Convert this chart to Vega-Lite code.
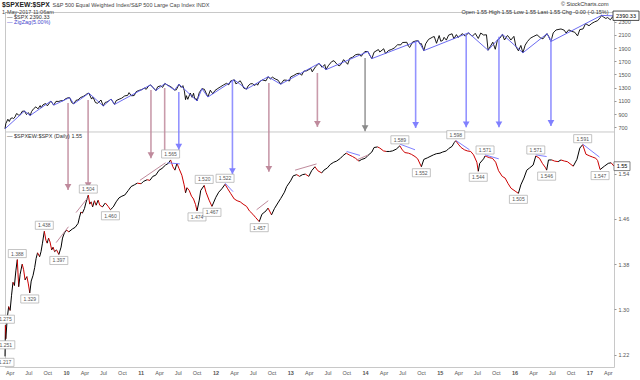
{
"$schema":"https://vega.github.io/schema/vega-lite/v6.json",
"width":609,"height":355,
"autosize":{"type":"none"},
"padding":{"left":5,"top":12,"right":26,"bottom":13},
"background":"white",
"config":{"view":{"stroke":"#c8c8c8","strokeWidth":1},"font":"Liberation Sans"},
"title":{"text":"$SPXEW:$SPX","subtitle":"1-May-2017 11:06am","anchor":"start","frame":"group","fontSize":6.8,"fontWeight":"bold","color":"#222","subtitleFontSize":5.5,"subtitleColor":"#444","subtitlePadding":1,"offset":1,"dx":-3,"dy":15},
"datasets":{
"spx":[
{"d":"2009-03-09","c":677},{"d":"2009-03-13","c":756},{"d":"2009-03-23","c":822},{"d":"2009-03-30","c":788},{"d":"2009-04-06","c":835},{"d":"2009-04-14","c":842},{"d":"2009-04-20","c":832},{"d":"2009-04-27","c":857},{"d":"2009-05-04","c":907},{"d":"2009-05-11","c":897},{"d":"2009-05-15","c":882},{"d":"2009-05-22","c":887},{"d":"2009-06-01","c":942},{"d":"2009-06-12","c":946},{"d":"2009-06-22","c":893},{"d":"2009-07-01","c":923},{"d":"2009-07-10","c":879},{"d":"2009-07-17","c":940},{"d":"2009-07-27","c":982},{"d":"2009-08-07","c":1010},{"d":"2009-08-17","c":979},{"d":"2009-08-28","c":1029},{"d":"2009-09-02","c":995},{"d":"2009-09-11","c":1042},{"d":"2009-09-23","c":1060},{"d":"2009-10-02","c":1025},{"d":"2009-10-19","c":1097},{"d":"2009-11-02","c":1036},{"d":"2009-11-13","c":1093},{"d":"2009-11-27","c":1092},{"d":"2009-12-07","c":1103},{"d":"2009-12-18","c":1102},{"d":"2009-12-28","c":1128},
{"d":"2010-01-08","c":1145},{"d":"2010-01-19","c":1150},{"d":"2010-01-29","c":1074},{"d":"2010-02-08","c":1056},{"d":"2010-02-19","c":1109},{"d":"2010-03-01","c":1115},{"d":"2010-03-12","c":1150},{"d":"2010-03-26","c":1167},{"d":"2010-04-05","c":1187},{"d":"2010-04-15","c":1211},{"d":"2010-04-23","c":1217},{"d":"2010-05-06","c":1128},{"d":"2010-05-13","c":1157},{"d":"2010-05-25","c":1074},{"d":"2010-06-04","c":1064},{"d":"2010-06-21","c":1113},{"d":"2010-07-02","c":1022},{"d":"2010-07-12","c":1078},{"d":"2010-07-20","c":1083},{"d":"2010-07-30","c":1102},{"d":"2010-08-09","c":1128},{"d":"2010-08-26","c":1047},{"d":"2010-09-03","c":1104},{"d":"2010-09-17","c":1125},{"d":"2010-09-30","c":1141},{"d":"2010-10-15","c":1176},{"d":"2010-10-29","c":1183},{"d":"2010-11-05","c":1225},{"d":"2010-11-16","c":1178},{"d":"2010-11-30","c":1181},{"d":"2010-12-10","c":1240},{"d":"2010-12-22","c":1258},
{"d":"2011-01-07","c":1271},{"d":"2011-01-18","c":1295},{"d":"2011-01-28","c":1276},{"d":"2011-02-08","c":1324},{"d":"2011-02-18","c":1343},{"d":"2011-03-01","c":1306},{"d":"2011-03-16","c":1256},{"d":"2011-03-25","c":1314},{"d":"2011-04-08","c":1328},{"d":"2011-04-18","c":1305},{"d":"2011-04-29","c":1364},{"d":"2011-05-13","c":1338},{"d":"2011-05-25","c":1320},{"d":"2011-06-03","c":1300},{"d":"2011-06-15","c":1265},{"d":"2011-06-24","c":1268},{"d":"2011-07-07","c":1353},{"d":"2011-07-18","c":1305},{"d":"2011-07-26","c":1331},{"d":"2011-08-02","c":1254},{"d":"2011-08-08","c":1119},{"d":"2011-08-12","c":1179},{"d":"2011-08-19","c":1124},{"d":"2011-08-31","c":1219},{"d":"2011-09-09","c":1154},{"d":"2011-09-16","c":1216},{"d":"2011-09-22","c":1129},{"d":"2011-09-30","c":1131},{"d":"2011-10-03","c":1099},{"d":"2011-10-14","c":1225},{"d":"2011-10-27","c":1285},{"d":"2011-11-08","c":1276},{"d":"2011-11-25","c":1159},{"d":"2011-12-07","c":1262},{"d":"2011-12-19","c":1206},{"d":"2011-12-30","c":1258},
{"d":"2012-01-13","c":1289},{"d":"2012-01-27","c":1316},{"d":"2012-02-10","c":1343},{"d":"2012-02-24","c":1366},{"d":"2012-03-06","c":1344},{"d":"2012-03-16","c":1404},{"d":"2012-04-02","c":1419},{"d":"2012-04-10","c":1358},{"d":"2012-04-20","c":1379},{"d":"2012-05-01","c":1405},{"d":"2012-05-10","c":1357},{"d":"2012-05-18","c":1295},{"d":"2012-06-01","c":1278},{"d":"2012-06-08","c":1325},{"d":"2012-06-19","c":1357},{"d":"2012-06-29","c":1362},{"d":"2012-07-12","c":1334},{"d":"2012-07-20","c":1362},{"d":"2012-07-25","c":1338},{"d":"2012-08-03","c":1390},{"d":"2012-08-17","c":1418},{"d":"2012-09-04","c":1404},{"d":"2012-09-14","c":1466},{"d":"2012-09-26","c":1433},{"d":"2012-10-05","c":1460},{"d":"2012-10-19","c":1433},{"d":"2012-11-02","c":1414},{"d":"2012-11-15","c":1353},{"d":"2012-11-30","c":1416},{"d":"2012-12-14","c":1413},{"d":"2012-12-28","c":1402},
{"d":"2013-01-02","c":1462},{"d":"2013-01-18","c":1486},{"d":"2013-02-01","c":1513},{"d":"2013-02-15","c":1520},{"d":"2013-02-25","c":1488},{"d":"2013-03-08","c":1551},{"d":"2013-03-22","c":1556},{"d":"2013-04-11","c":1593},{"d":"2013-04-18","c":1541},{"d":"2013-05-03","c":1614},{"d":"2013-05-21","c":1669},{"d":"2013-06-05","c":1609},{"d":"2013-06-18","c":1651},{"d":"2013-06-24","c":1573},{"d":"2013-07-05","c":1632},{"d":"2013-07-22","c":1696},{"d":"2013-08-02","c":1709},{"d":"2013-08-15","c":1661},{"d":"2013-08-27","c":1630},{"d":"2013-09-06","c":1655},{"d":"2013-09-18","c":1725},{"d":"2013-10-08","c":1655},{"d":"2013-10-18","c":1744},{"d":"2013-11-01","c":1762},{"d":"2013-11-15","c":1798},{"d":"2013-11-27","c":1807},{"d":"2013-12-06","c":1805},{"d":"2013-12-13","c":1775},{"d":"2013-12-31","c":1848},
{"d":"2014-01-15","c":1848},{"d":"2014-01-24","c":1790},{"d":"2014-02-03","c":1741},{"d":"2014-02-14","c":1838},{"d":"2014-03-07","c":1878},{"d":"2014-03-14","c":1841},{"d":"2014-04-02","c":1890},{"d":"2014-04-11","c":1815},{"d":"2014-04-25","c":1863},{"d":"2014-05-09","c":1878},{"d":"2014-05-23","c":1900},{"d":"2014-06-09","c":1951},{"d":"2014-06-24","c":1949},{"d":"2014-07-03","c":1985},{"d":"2014-07-24","c":1988},{"d":"2014-07-31","c":1931},{"d":"2014-08-07","c":1910},{"d":"2014-08-21","c":1992},{"d":"2014-09-05","c":2008},{"d":"2014-09-18","c":2011},{"d":"2014-09-25","c":1965},{"d":"2014-10-03","c":1968},{"d":"2014-10-15","c":1862},{"d":"2014-10-24","c":1965},{"d":"2014-11-07","c":2032},{"d":"2014-11-28","c":2068},{"d":"2014-12-05","c":2075},{"d":"2014-12-16","c":1973},{"d":"2014-12-29","c":2090},
{"d":"2015-01-06","c":2003},{"d":"2015-01-16","c":2019},{"d":"2015-01-22","c":2063},{"d":"2015-02-02","c":2021},{"d":"2015-02-13","c":2097},{"d":"2015-03-02","c":2117},{"d":"2015-03-11","c":2040},{"d":"2015-03-23","c":2104},{"d":"2015-04-01","c":2060},{"d":"2015-04-15","c":2106},{"d":"2015-04-24","c":2117},{"d":"2015-05-06","c":2080},{"d":"2015-05-21","c":2131},{"d":"2015-06-09","c":2080},{"d":"2015-06-23","c":2124},{"d":"2015-07-08","c":2046},{"d":"2015-07-20","c":2128},{"d":"2015-08-03","c":2098},{"d":"2015-08-17","c":2102},{"d":"2015-08-25","c":1867},{"d":"2015-09-04","c":1921},{"d":"2015-09-17","c":1990},{"d":"2015-09-29","c":1882},{"d":"2015-10-09","c":2015},{"d":"2015-10-22","c":2052},{"d":"2015-11-03","c":2109},{"d":"2015-11-13","c":2023},{"d":"2015-11-27","c":2090},{"d":"2015-12-02","c":2079},{"d":"2015-12-14","c":2022},{"d":"2015-12-29","c":2078},
{"d":"2016-01-08","c":1922},{"d":"2016-01-20","c":1859},{"d":"2016-02-01","c":1940},{"d":"2016-02-11","c":1829},{"d":"2016-02-22","c":1945},{"d":"2016-03-04","c":1999},{"d":"2016-03-18","c":2049},{"d":"2016-04-01","c":2073},{"d":"2016-04-20","c":2102},{"d":"2016-05-06","c":2057},{"d":"2016-05-19","c":2040},{"d":"2016-06-08","c":2119},{"d":"2016-06-16","c":2077},{"d":"2016-06-27","c":2000},{"d":"2016-07-08","c":2130},{"d":"2016-07-22","c":2175},{"d":"2016-08-15","c":2190},{"d":"2016-08-31","c":2171},{"d":"2016-09-09","c":2128},{"d":"2016-09-22","c":2177},{"d":"2016-10-07","c":2153},{"d":"2016-10-21","c":2141},{"d":"2016-11-04","c":2085},{"d":"2016-11-15","c":2180},{"d":"2016-12-01","c":2191},{"d":"2016-12-13","c":2271},{"d":"2016-12-30","c":2239},
{"d":"2017-01-13","c":2275},{"d":"2017-01-26","c":2297},{"d":"2017-02-10","c":2316},{"d":"2017-02-24","c":2367},{"d":"2017-03-01","c":2396},{"d":"2017-03-10","c":2373},{"d":"2017-03-22","c":2349},{"d":"2017-03-31","c":2363},{"d":"2017-04-13","c":2329},{"d":"2017-04-24","c":2374},{"d":"2017-05-01","c":2388}
],
"zig":[
{"d":"2009-03-09","z":677},{"d":"2009-06-12","z":946},{"d":"2009-07-10","z":879},{"d":"2009-10-19","z":1097},{"d":"2009-11-02","z":1036},{"d":"2010-01-19","z":1150},{"d":"2010-02-08","z":1056},{"d":"2010-04-23","z":1217},{"d":"2010-07-02","z":1022},{"d":"2010-08-09","z":1128},{"d":"2010-08-26","z":1047},{"d":"2011-02-18","z":1343},{"d":"2011-03-16","z":1256},{"d":"2011-04-29","z":1364},{"d":"2011-06-15","z":1265},{"d":"2011-07-07","z":1353},{"d":"2011-10-03","z":1099},{"d":"2011-10-27","z":1285},{"d":"2011-11-25","z":1159},{"d":"2012-04-02","z":1419},{"d":"2012-06-01","z":1278},{"d":"2012-09-14","z":1466},{"d":"2012-11-15","z":1353},{"d":"2013-05-21","z":1669},{"d":"2013-06-24","z":1573},{"d":"2014-01-15","z":1848},{"d":"2014-02-03","z":1741},{"d":"2014-09-18","z":2011},{"d":"2014-10-15","z":1862},{"d":"2015-05-21","z":2131},{"d":"2015-08-25","z":1867},{"d":"2015-11-03","z":2109},{"d":"2016-02-11","z":1829},{"d":"2016-06-08","z":2119},{"d":"2016-06-27","z":2000},{"d":"2017-03-01","z":2396},{"d":"2017-05-01","z":2388}
],
"r":[
{"d":"2009-03-09","v":1.217},{"d":"2009-03-11","v":1.272},{"d":"2009-03-13","v":1.248},{"d":"2009-03-20","v":1.285},{"d":"2009-03-27","v":1.305},{"d":"2009-04-03","v":1.298},{"d":"2009-04-10","v":1.325},{"d":"2009-04-17","v":1.348},{"d":"2009-04-24","v":1.342},{"d":"2009-05-01","v":1.368},{"d":"2009-05-08","v":1.388},{"d":"2009-05-15","v":1.34},{"d":"2009-05-22","v":1.362},{"d":"2009-06-01","v":1.38},{"d":"2009-06-08","v":1.37},{"d":"2009-06-15","v":1.352},{"d":"2009-06-24","v":1.358},{"d":"2009-07-01","v":1.345},{"d":"2009-07-08","v":1.329},{"d":"2009-07-15","v":1.35},{"d":"2009-07-24","v":1.36},{"d":"2009-08-01","v":1.374},{"d":"2009-08-08","v":1.39},{"d":"2009-08-15","v":1.4},{"d":"2009-08-25","v":1.393},{"d":"2009-09-01","v":1.402},{"d":"2009-09-08","v":1.417},{"d":"2009-09-17","v":1.438},{"d":"2009-09-25","v":1.422},{"d":"2009-10-01","v":1.417},{"d":"2009-10-08","v":1.426},{"d":"2009-10-15","v":1.419},{"d":"2009-10-23","v":1.405},{"d":"2009-10-30","v":1.41},{"d":"2009-11-06","v":1.402},{"d":"2009-11-16","v":1.405},{"d":"2009-11-27","v":1.397},{"d":"2009-12-08","v":1.41},{"d":"2009-12-15","v":1.426},{"d":"2009-12-24","v":1.435},
{"d":"2010-01-04","v":1.44},{"d":"2010-01-15","v":1.437},{"d":"2010-02-01","v":1.442},{"d":"2010-02-15","v":1.445},{"d":"2010-03-01","v":1.452},{"d":"2010-03-08","v":1.463},{"d":"2010-03-15","v":1.472},{"d":"2010-03-22","v":1.47},{"d":"2010-04-01","v":1.478},{"d":"2010-04-08","v":1.488},{"d":"2010-04-20","v":1.502},{"d":"2010-04-27","v":1.486},{"d":"2010-05-04","v":1.49},{"d":"2010-05-11","v":1.481},{"d":"2010-05-20","v":1.492},{"d":"2010-05-28","v":1.484},{"d":"2010-06-07","v":1.493},{"d":"2010-06-15","v":1.484},{"d":"2010-06-28","v":1.481},{"d":"2010-07-12","v":1.488},{"d":"2010-07-26","v":1.482},{"d":"2010-08-06","v":1.476},{"d":"2010-08-20","v":1.481},{"d":"2010-09-03","v":1.49},{"d":"2010-09-17","v":1.497},{"d":"2010-10-01","v":1.5},{"d":"2010-10-15","v":1.502},{"d":"2010-11-01","v":1.51},{"d":"2010-11-15","v":1.517},{"d":"2010-12-01","v":1.52},{"d":"2010-12-15","v":1.523},
{"d":"2011-01-03","v":1.522},{"d":"2011-01-14","v":1.526},{"d":"2011-02-01","v":1.529},{"d":"2011-02-15","v":1.528},{"d":"2011-03-01","v":1.535},{"d":"2011-03-15","v":1.537},{"d":"2011-04-01","v":1.546},{"d":"2011-04-15","v":1.549},{"d":"2011-05-02","v":1.555},{"d":"2011-05-16","v":1.558},{"d":"2011-05-27","v":1.564},{"d":"2011-06-07","v":1.552},{"d":"2011-06-17","v":1.546},{"d":"2011-06-27","v":1.558},{"d":"2011-07-07","v":1.549},{"d":"2011-07-21","v":1.537},{"d":"2011-08-01","v":1.52},{"d":"2011-08-08","v":1.506},{"d":"2011-08-15","v":1.515},{"d":"2011-08-26","v":1.51},{"d":"2011-09-06","v":1.5},{"d":"2011-09-16","v":1.495},{"d":"2011-09-26","v":1.485},{"d":"2011-10-03","v":1.474},{"d":"2011-10-14","v":1.493},{"d":"2011-10-21","v":1.51},{"d":"2011-11-07","v":1.519},{"d":"2011-11-16","v":1.507},{"d":"2011-12-01","v":1.493},{"d":"2011-12-15","v":1.482},
{"d":"2012-01-03","v":1.498},{"d":"2012-01-17","v":1.507},{"d":"2012-02-01","v":1.513},{"d":"2012-02-17","v":1.521},{"d":"2012-03-01","v":1.513},{"d":"2012-03-15","v":1.505},{"d":"2012-04-02","v":1.495},{"d":"2012-04-16","v":1.492},{"d":"2012-05-01","v":1.49},{"d":"2012-05-15","v":1.486},{"d":"2012-06-01","v":1.482},{"d":"2012-06-15","v":1.474},{"d":"2012-07-02","v":1.468},{"d":"2012-07-16","v":1.462},{"d":"2012-08-02","v":1.455},{"d":"2012-08-15","v":1.468},{"d":"2012-09-04","v":1.474},{"d":"2012-09-14","v":1.479},{"d":"2012-10-01","v":1.467},{"d":"2012-10-15","v":1.478},{"d":"2012-11-01","v":1.488},{"d":"2012-11-15","v":1.496},{"d":"2012-12-03","v":1.507},{"d":"2012-12-14","v":1.517},
{"d":"2013-01-02","v":1.527},{"d":"2013-01-15","v":1.536},{"d":"2013-02-01","v":1.538},{"d":"2013-02-15","v":1.535},{"d":"2013-03-01","v":1.538},{"d":"2013-03-15","v":1.539},{"d":"2013-04-01","v":1.535},{"d":"2013-04-15","v":1.545},{"d":"2013-05-01","v":1.552},{"d":"2013-05-15","v":1.545},{"d":"2013-06-03","v":1.541},{"d":"2013-06-14","v":1.546},{"d":"2013-07-01","v":1.55},{"d":"2013-07-15","v":1.556},{"d":"2013-08-01","v":1.56},{"d":"2013-08-15","v":1.562},{"d":"2013-09-03","v":1.567},{"d":"2013-09-16","v":1.572},{"d":"2013-10-01","v":1.576},{"d":"2013-10-15","v":1.573},{"d":"2013-11-01","v":1.57},{"d":"2013-11-15","v":1.567},{"d":"2013-12-02","v":1.562},{"d":"2013-12-16","v":1.565},
{"d":"2014-01-02","v":1.567},{"d":"2014-01-15","v":1.572},{"d":"2014-02-03","v":1.578},{"d":"2014-02-14","v":1.586},{"d":"2014-03-03","v":1.587},{"d":"2014-03-14","v":1.585},{"d":"2014-04-01","v":1.58},{"d":"2014-04-15","v":1.579},{"d":"2014-05-01","v":1.579},{"d":"2014-05-15","v":1.58},{"d":"2014-06-02","v":1.583},{"d":"2014-06-20","v":1.589},{"d":"2014-07-01","v":1.582},{"d":"2014-07-15","v":1.577},{"d":"2014-08-01","v":1.576},{"d":"2014-08-15","v":1.574},{"d":"2014-09-02","v":1.57},{"d":"2014-09-15","v":1.566},{"d":"2014-10-03","v":1.552},{"d":"2014-10-15","v":1.565},{"d":"2014-11-03","v":1.568},{"d":"2014-11-14","v":1.57},{"d":"2014-12-01","v":1.573},{"d":"2014-12-15","v":1.575},
{"d":"2015-01-02","v":1.576},{"d":"2015-01-15","v":1.578},{"d":"2015-02-02","v":1.58},{"d":"2015-02-13","v":1.584},{"d":"2015-03-02","v":1.588},{"d":"2015-03-13","v":1.595},{"d":"2015-03-20","v":1.598},{"d":"2015-04-01","v":1.592},{"d":"2015-04-15","v":1.586},{"d":"2015-05-01","v":1.582},{"d":"2015-05-15","v":1.58},{"d":"2015-06-01","v":1.579},{"d":"2015-06-15","v":1.573},{"d":"2015-07-01","v":1.56},{"d":"2015-07-08","v":1.544},{"d":"2015-07-15","v":1.558},{"d":"2015-08-03","v":1.566},{"d":"2015-08-10","v":1.571},{"d":"2015-08-17","v":1.57},{"d":"2015-09-01","v":1.568},{"d":"2015-09-15","v":1.567},{"d":"2015-10-01","v":1.56},{"d":"2015-10-15","v":1.545},{"d":"2015-11-02","v":1.535},{"d":"2015-11-16","v":1.532},{"d":"2015-12-01","v":1.522},{"d":"2015-12-15","v":1.514},
{"d":"2016-01-04","v":1.509},{"d":"2016-01-20","v":1.505},{"d":"2016-02-01","v":1.52},{"d":"2016-02-16","v":1.532},{"d":"2016-03-01","v":1.546},{"d":"2016-03-15","v":1.55},{"d":"2016-04-01","v":1.555},{"d":"2016-04-14","v":1.571},{"d":"2016-05-02","v":1.567},{"d":"2016-05-16","v":1.558},{"d":"2016-06-01","v":1.55},{"d":"2016-06-06","v":1.546},{"d":"2016-06-15","v":1.564},{"d":"2016-07-01","v":1.564},{"d":"2016-07-15","v":1.562},{"d":"2016-08-01","v":1.561},{"d":"2016-08-15","v":1.564},{"d":"2016-09-01","v":1.562},{"d":"2016-09-15","v":1.561},{"d":"2016-10-03","v":1.556},{"d":"2016-10-14","v":1.553},{"d":"2016-11-01","v":1.565},{"d":"2016-11-15","v":1.585},{"d":"2016-11-29","v":1.591},{"d":"2016-12-15","v":1.574},
{"d":"2017-01-03","v":1.571},{"d":"2017-01-17","v":1.569},{"d":"2017-02-01","v":1.567},{"d":"2017-02-10","v":1.563},{"d":"2017-02-22","v":1.547},{"d":"2017-03-15","v":1.553},{"d":"2017-04-03","v":1.558},{"d":"2017-04-17","v":1.559},{"d":"2017-05-01","v":1.553}
],
"trend":[
{"g":1,"d":"2009-11-14","v":1.418,"kind":"up"},{"g":1,"d":"2010-01-13","v":1.446,"kind":"up"},
{"g":2,"d":"2010-02-19","v":1.471,"kind":"up"},{"g":2,"d":"2010-04-19","v":1.498,"kind":"up"},
{"g":3,"d":"2010-12-28","v":1.528,"kind":"up"},{"g":3,"d":"2011-05-02","v":1.559,"kind":"up"},
{"g":4,"d":"2011-05-12","v":1.559,"kind":"down"},{"g":4,"d":"2011-07-11","v":1.557,"kind":"down"},
{"g":5,"d":"2012-02-17","v":1.523,"kind":"down"},{"g":5,"d":"2012-03-27","v":1.508,"kind":"down"},
{"g":6,"d":"2012-07-20","v":1.476,"kind":"up"},{"g":6,"d":"2012-09-15","v":1.492,"kind":"up"},
{"g":7,"d":"2013-01-24","v":1.546,"kind":"up"},{"g":7,"d":"2013-05-09","v":1.557,"kind":"up"},
{"g":8,"d":"2013-10-03","v":1.579,"kind":"down"},{"g":8,"d":"2013-12-07","v":1.572,"kind":"down"},
{"g":9,"d":"2013-11-21","v":1.564,"kind":"up"},{"g":9,"d":"2014-01-17","v":1.573,"kind":"up"},
{"g":10,"d":"2014-06-20","v":1.592,"kind":"down"},{"g":10,"d":"2014-09-02","v":1.582,"kind":"down"},
{"g":11,"d":"2015-03-22","v":1.598,"kind":"down"},{"g":11,"d":"2015-05-26","v":1.582,"kind":"down"},
{"g":12,"d":"2015-08-09","v":1.573,"kind":"down"},{"g":12,"d":"2015-10-16","v":1.566,"kind":"down"},
{"g":13,"d":"2016-04-14","v":1.573,"kind":"down"},{"g":13,"d":"2016-06-06","v":1.57,"kind":"down"},
{"g":14,"d":"2016-11-29","v":1.592,"kind":"down"},{"g":14,"d":"2017-02-19","v":1.569,"kind":"down"}
],
"arrows":[
{"d":"2010-01-11","s":1068,"tipR":1.511,"kind":"up"},
{"d":"2010-04-19","s":1114,"tipR":1.514,"kind":"up"},
{"d":"2011-02-20","s":1265,"tipR":1.567,"kind":"up"},
{"d":"2011-04-28","s":1295,"tipR":1.569,"kind":"up"},
{"d":"2011-07-06","s":1235,"tipR":1.582,"kind":"down"},
{"d":"2012-03-24","s":1417,"tipR":1.539,"kind":"down"},
{"d":"2012-09-18","s":1371,"tipR":1.543,"kind":"up"},
{"d":"2013-05-13","s":1523,"tipS":705,"kind":"up"},
{"d":"2014-01-01","s":1750,"tipS":640,"kind":"flat"},
{"d":"2014-09-05","s":1997,"tipS":689,"kind":"down"},
{"d":"2015-05-10","s":2098,"tipS":700,"kind":"down"},
{"d":"2015-10-17","s":2073,"tipS":700,"kind":"down"},
{"d":"2016-06-27","s":2048,"tipS":720,"kind":"down"}
],
"peaks":[
{"d":"2009-03-11","v":1.272,"lab":"1.275"},{"d":"2009-05-08","v":1.388,"lab":"1.388"},{"d":"2009-09-17","v":1.438,"lab":"1.438"},{"d":"2010-04-20","v":1.502,"lab":"1.504"},{"d":"2011-05-27","v":1.564,"lab":"1.565"},{"d":"2011-11-07","v":1.519,"lab":"1.520"},{"d":"2012-02-17","v":1.521,"lab":"1.522"},{"d":"2014-06-20","v":1.589,"lab":"1.589"},{"d":"2015-03-20","v":1.598,"lab":"1.598"},{"d":"2015-08-10","v":1.571,"lab":"1.571"},{"d":"2016-04-14","v":1.571,"lab":"1.571"},{"d":"2016-11-29","v":1.591,"lab":"1.591"}
],
"troughs":[
{"d":"2009-03-09","v":1.217,"lab":"1.217"},{"d":"2009-03-13","v":1.248,"lab":"1.251"},{"d":"2009-07-08","v":1.329,"lab":"1.329"},{"d":"2009-11-27","v":1.397,"lab":"1.397"},{"d":"2010-08-06","v":1.476,"lab":"1.460"},{"d":"2011-10-03","v":1.474,"lab":"1.474"},{"d":"2011-12-15","v":1.482,"lab":"1.467"},{"d":"2012-08-02","v":1.455,"lab":"1.457"},{"d":"2014-10-03","v":1.552,"lab":"1.552"},{"d":"2015-07-08","v":1.544,"lab":"1.544"},{"d":"2016-01-20","v":1.505,"lab":"1.505"},{"d":"2016-06-06","v":1.546,"lab":"1.546"},{"d":"2017-02-22","v":1.547,"lab":"1.547"}
]
},
"layer":[
{"layer":[
 {"data":{"name":"spx","format":{"parse":{"d":"date"}}},"mark":{"type":"line","color":"#000","strokeWidth":0.9},
  "encoding":{
   "x":{"field":"d","type":"temporal","scale":{"type":"utc","domain":[{"year":2009,"month":3,"date":9,"utc":true},{"year":2017,"month":5,"date":1,"utc":true}],"nice":false},"axis":{"title":null,"tickCount":{"interval":"month","step":3},"labelExpr":"utcmonth(datum.value)==0 ? utcFormat(datum.value,'%y') : utcFormat(datum.value,'%b')","labelFontWeight":{"condition":{"test":"utcmonth(datum.value)==0","value":"bold"},"value":"normal"},"labelFontSize":5.5,"labelColor":"#555","labelPadding":3,"domain":false,"ticks":false,"grid":false,"labelOverlap":false,"labelFlush":false}},
   "y":{"field":"c","type":"quantitative","scale":{"domain":[-2932,2447],"nice":false,"zero":false},
   "axis":{"orient":"right","values":[700,800,900,1000,1100,1200,1300,1400,1500,1600,1700,1800,1900,2000,2100,2200,2300],"format":"d","domain":false,"grid":false,"tickSize":2,"tickColor":"#999","labelFontSize":5.5,"labelColor":"#555","labelPadding":2,
   "title":"S&P 500 Equal Weighted Index/S&P 500 Large Cap Index INDX","titleAngle":0,"titleX":-562,"titleY":-8,"titleAlign":"left","titleBaseline":"middle","titleFontSize":5.5,"titleFontWeight":"normal","titleColor":"#444"}}}},
 {"data":{"name":"zig","format":{"parse":{"d":"date"}}},"mark":{"type":"line","color":"#5a5aee","strokeWidth":0.9},"encoding":{"x":{"field":"d","type":"temporal"},"y":{"field":"z","type":"quantitative"}}},
 {"data":{"values":[{}]},"mark":{"type":"rule","color":"#c8c8c8","strokeWidth":1},"encoding":{"y":{"datum":629}}},
 {"data":{"name":"arrows","format":{"parse":{"d":"date"}}},"transform":[{"filter":"isValid(datum.tipR)"},{"calculate":"629","as":"bot"}],"mark":{"type":"rule","strokeWidth":1.6,"opacity":0.85},"encoding":{"x":{"field":"d","type":"temporal"},"y":{"field":"s","type":"quantitative"},"y2":{"field":"bot"},"color":{"field":"kind","type":"nominal","scale":{"domain":["up","down","flat"],"range":["#bf8a9c","#8080ff","#8a8a8a"]},"legend":null}}},
 {"data":{"name":"arrows","format":{"parse":{"d":"date"}}},"transform":[{"filter":"isValid(datum.tipS)"}],"mark":{"type":"rule","strokeWidth":1.6,"opacity":0.85},"encoding":{"x":{"field":"d","type":"temporal"},"y":{"field":"s","type":"quantitative"},"y2":{"field":"tipS"},"color":{"field":"kind","type":"nominal","legend":null}}},
 {"data":{"name":"arrows","format":{"parse":{"d":"date"}}},"transform":[{"filter":"isValid(datum.tipS)"}],"mark":{"type":"point","shape":"triangle-down","filled":true,"size":45,"opacity":1,"yOffset":-3},"encoding":{"x":{"field":"d","type":"temporal"},"y":{"field":"tipS","type":"quantitative"},"color":{"field":"kind","type":"nominal","legend":null}}},
 {"data":{"values":[{"t":"— $SPX 2390.33"}]},"mark":{"type":"text","align":"left","fontSize":5.5,"color":"#333","dx":2},"encoding":{"x":{"datum":{"year":2009,"month":3,"date":9,"utc":true},"type":"temporal"},"y":{"datum":2364},"text":{"field":"t"}}},
 {"data":{"values":[{"t":"— ZigZag(5.00%)"}]},"mark":{"type":"text","align":"left","fontSize":5.5,"color":"#4444cc","dx":2},"encoding":{"x":{"datum":{"year":2009,"month":3,"date":9,"utc":true},"type":"temporal"},"y":{"datum":2288},"text":{"field":"t"}}},
 {"data":{"values":[{"t":"2390.33"}]},"mark":{"type":"point","shape":"M-1,-0.36H1V0.36H-1Z","size":676,"filled":true,"fill":"white","stroke":"#222","strokeWidth":0.8,"opacity":1,"xOffset":12},"encoding":{"x":{"datum":{"year":2017,"month":5,"date":1,"utc":true},"type":"temporal"},"y":{"datum":2390.33}}},
 {"data":{"values":[{"t":"2390.33"}]},"mark":{"type":"text","fontSize":5.5,"color":"#000","xOffset":12},"encoding":{"x":{"datum":{"year":2017,"month":5,"date":1,"utc":true},"type":"temporal"},"y":{"datum":2390.33},"text":{"field":"t"}}}
]},
{"layer":[
 {"data":{"name":"r","format":{"parse":{"d":"date"}}},"transform":[{"window":[{"op":"lag","field":"v","as":"pv"},{"op":"lag","field":"d","as":"pd"}],"sort":[{"field":"d","order":"ascending"}]},{"filter":"datum.pv != null"}],
  "mark":{"type":"rule","strokeWidth":1},
  "encoding":{"x":{"field":"pd","type":"temporal"},"x2":{"field":"d"},
   "y":{"field":"pv","type":"quantitative","scale":{"domain":[1.1982,1.8254],"nice":false,"zero":false},
    "axis":{"orient":"right","values":[1.22,1.24,1.26,1.28,1.3,1.32,1.34,1.36,1.38,1.4,1.42,1.44,1.46,1.48,1.5,1.52,1.54,1.56,1.58,1.6],"format":".2f","domain":false,"grid":false,"tickSize":2,"tickColor":"#999","labelFontSize":5.5,"labelColor":"#555","labelPadding":2,
    "title":["© StockCharts.com","Open 1.55  High 1.55  Low 1.55  Last 1.55  Chg -0.00 (-0.15%)"],"titleAngle":0,"titleX":-6,"titleY":-9,"titleAlign":"right","titleBaseline":"middle","titleFontSize":5.5,"titleFontWeight":"normal","titleColor":"#333","titleLineHeight":8}},
   "y2":{"field":"v"},
   "color":{"condition":{"test":"datum.v >= datum.pv","value":"#000000"},"value":"#cc0000"}}},
 {"data":{"name":"trend","format":{"parse":{"d":"date"}}},"mark":{"type":"line","strokeWidth":1},"encoding":{"x":{"field":"d","type":"temporal"},"y":{"field":"v","type":"quantitative"},"detail":{"field":"g"},"color":{"field":"kind","type":"nominal","legend":null}}},
 {"data":{"name":"arrows","format":{"parse":{"d":"date"}}},"transform":[{"filter":"isValid(datum.tipR)"},{"calculate":"1.6134","as":"top"}],"mark":{"type":"rule","strokeWidth":1.6,"opacity":0.85},"encoding":{"x":{"field":"d","type":"temporal"},"y":{"field":"top","type":"quantitative"},"y2":{"field":"tipR"},"color":{"field":"kind","type":"nominal","legend":null}}},
 {"data":{"name":"arrows","format":{"parse":{"d":"date"}}},"transform":[{"filter":"isValid(datum.tipR)"}],"mark":{"type":"point","shape":"triangle-down","filled":true,"size":45,"opacity":1,"yOffset":-3},"encoding":{"x":{"field":"d","type":"temporal"},"y":{"field":"tipR","type":"quantitative"},"color":{"field":"kind","type":"nominal","legend":null}}},
 {"data":{"name":"peaks","format":{"parse":{"d":"date"}}},"mark":{"type":"point","shape":"M-1,-0.45H1V0.45H-1Z","size":324,"filled":true,"fill":"white","stroke":"#aaa","strokeWidth":0.7,"opacity":1,"yOffset":-6},"encoding":{"x":{"field":"d","type":"temporal"},"y":{"field":"v","type":"quantitative"}}},
 {"data":{"name":"peaks","format":{"parse":{"d":"date"}}},"mark":{"type":"text","fontSize":5,"color":"#555","yOffset":-6},"encoding":{"x":{"field":"d","type":"temporal"},"y":{"field":"v","type":"quantitative"},"text":{"field":"lab"}}},
 {"data":{"name":"troughs","format":{"parse":{"d":"date"}}},"mark":{"type":"point","shape":"M-1,-0.45H1V0.45H-1Z","size":324,"filled":true,"fill":"white","stroke":"#aaa","strokeWidth":0.7,"opacity":1,"yOffset":6},"encoding":{"x":{"field":"d","type":"temporal"},"y":{"field":"v","type":"quantitative"}}},
 {"data":{"name":"troughs","format":{"parse":{"d":"date"}}},"mark":{"type":"text","fontSize":5,"color":"#555","yOffset":6},"encoding":{"x":{"field":"d","type":"temporal"},"y":{"field":"v","type":"quantitative"},"text":{"field":"lab"}}},
 {"data":{"values":[{"t":"— $SPXEW:$SPX (Daily) 1.55"}]},"mark":{"type":"text","align":"left","fontSize":5.5,"color":"#333","dx":2},"encoding":{"x":{"datum":{"year":2009,"month":3,"date":9,"utc":true},"type":"temporal"},"y":{"datum":1.6072},"text":{"field":"t"}}},
 {"data":{"values":[{"t":"1.55"}]},"mark":{"type":"point","shape":"M-1,-0.55H1V0.55H-1Z","size":256,"filled":true,"fill":"white","stroke":"#666","strokeWidth":0.8,"opacity":1,"xOffset":8},"encoding":{"x":{"datum":{"year":2017,"month":5,"date":1,"utc":true},"type":"temporal"},"y":{"datum":1.553}}},
 {"data":{"values":[{"t":"1.55"}]},"mark":{"type":"text","fontSize":5.5,"color":"#000","xOffset":8},"encoding":{"x":{"datum":{"year":2017,"month":5,"date":1,"utc":true},"type":"temporal"},"y":{"datum":1.553},"text":{"field":"t"}}}
]}
],
"resolve":{"scale":{"y":"independent"},"axis":{"y":"independent"}}
}
